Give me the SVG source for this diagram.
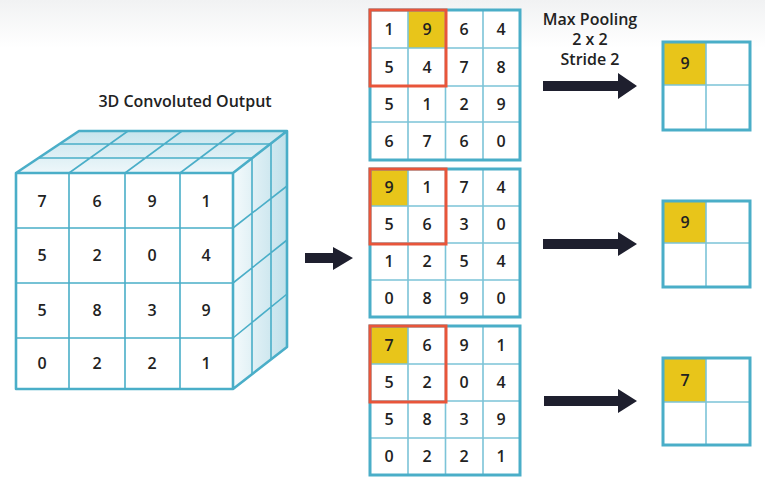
<svg xmlns="http://www.w3.org/2000/svg" width="765" height="483" viewBox="0 0 765 483">
<defs>
<linearGradient id="bg" x1="0" y1="0" x2="0" y2="1"><stop offset="0" stop-color="#f1f2f3"/><stop offset="0.1" stop-color="#ffffff"/><stop offset="1" stop-color="#ffffff"/></linearGradient>
<linearGradient id="topg" x1="0" y1="1" x2="0" y2="0"><stop offset="0" stop-color="#eef7fa"/><stop offset="1" stop-color="#c6e4ed"/></linearGradient>
<linearGradient id="sideg" x1="0" y1="0" x2="1" y2="0"><stop offset="0" stop-color="#f4fafc"/><stop offset="1" stop-color="#bfe0ea"/></linearGradient>
<style>
.num{font-family:"Open Sans","Liberation Sans",sans-serif;font-size:16px;font-weight:600;fill:#222;text-anchor:middle}
.ttl{font-family:"Open Sans","Liberation Sans",sans-serif;font-size:16px;font-weight:600;fill:#222;text-anchor:middle}
.outer{fill:none;stroke:#4aaec8;stroke-width:3}
.inner{fill:none;stroke:#7cc4d8;stroke-width:1.6}
.cube{fill:none;stroke:#4aaec8;stroke-width:1.6;stroke-linejoin:round}
.cubeo{fill:none;stroke:#4aaec8;stroke-width:2.6;stroke-linejoin:round}
.red{fill:none;stroke:#e8553a;stroke-width:3}
.yel{fill:#e8c51a}
.cell{fill:#ffffff}
.arrow{fill:#1e1f2e}
</style>
</defs>
<rect width="765" height="483" fill="url(#bg)"/>

<text class="ttl" x="185" y="107">3D Convoluted Output</text>

<g id="cube">
<polygon points="16,173 79,131 287,131 233,173" fill="url(#topg)"/>
<polygon points="233,173 287,131 287,347 233,389" fill="url(#sideg)"/>
<rect x="16" y="173" width="217" height="216" fill="#ffffff"/>
<path class="cube" d="M38.5,158H252 M59.5,144H271 M69,173L128,131 M125,173L182,131 M180,173L236,131 M252,158.5V374.5 M271,144V360 M233,228L287,186 M233,283L287,240 M233,338L287,294"/>
<path class="cube" d="M69,173V389 M125,173V389 M180,173V389 M16,228H233 M16,283H233 M16,338H233"/>
<path class="cubeo" d="M16,173L79,131H287L233,173Z M233,173V389L287,347V131 M16,173H233V389H16Z"/>
<text class="num" x="42" y="207">7</text><text class="num" x="97" y="207">6</text><text class="num" x="152" y="207">9</text><text class="num" x="206" y="207">1</text>
<text class="num" x="42" y="261">5</text><text class="num" x="97" y="261">2</text><text class="num" x="152" y="261">0</text><text class="num" x="206" y="261">4</text>
<text class="num" x="42" y="316">5</text><text class="num" x="97" y="316">8</text><text class="num" x="152" y="316">3</text><text class="num" x="206" y="316">9</text>
<text class="num" x="42" y="369">0</text><text class="num" x="97" y="369">2</text><text class="num" x="152" y="369">2</text><text class="num" x="206" y="369">1</text>
</g>

<g id="grid1">
<rect class="cell" x="370" y="10" width="150" height="150"/>
<rect class="yel" x="408" y="10" width="38" height="38"/>
<path class="inner" d="M408,10V160 M445.5,10V160 M483,10V160 M370,48H520 M370,86H520 M370,122H520"/>
<rect class="outer" x="370" y="10" width="150" height="150"/>
<rect class="red" x="370" y="10" width="76" height="76"/>
<text class="num" x="389" y="35">1</text><text class="num" x="427" y="35">9</text><text class="num" x="464" y="35">6</text><text class="num" x="501" y="35">4</text>
<text class="num" x="389" y="73">5</text><text class="num" x="427" y="73">4</text><text class="num" x="464" y="73">7</text><text class="num" x="501" y="73">8</text>
<text class="num" x="389" y="110">5</text><text class="num" x="427" y="110">1</text><text class="num" x="464" y="110">2</text><text class="num" x="501" y="110">9</text>
<text class="num" x="389" y="147">6</text><text class="num" x="427" y="147">7</text><text class="num" x="464" y="147">6</text><text class="num" x="501" y="147">0</text>
</g>

<g id="grid2">
<rect class="cell" x="370" y="169" width="150" height="148"/>
<rect class="yel" x="370" y="169" width="38" height="37"/>
<path class="inner" d="M408,169V317 M445.5,169V317 M483,169V317 M370,206H520 M370,243H520 M370,280H520"/>
<rect class="outer" x="370" y="169" width="150" height="148"/>
<rect class="red" x="370" y="169" width="76" height="75"/>
<text class="num" x="389" y="193">9</text><text class="num" x="427" y="193">1</text><text class="num" x="464" y="193">7</text><text class="num" x="501" y="193">4</text>
<text class="num" x="389" y="230">5</text><text class="num" x="427" y="230">6</text><text class="num" x="464" y="230">3</text><text class="num" x="501" y="230">0</text>
<text class="num" x="389" y="267">1</text><text class="num" x="427" y="267">2</text><text class="num" x="464" y="267">5</text><text class="num" x="501" y="267">4</text>
<text class="num" x="389" y="304">0</text><text class="num" x="427" y="304">8</text><text class="num" x="464" y="304">9</text><text class="num" x="501" y="304">0</text>
</g>

<g id="grid3">
<rect class="cell" x="370" y="326" width="150" height="149"/>
<rect class="yel" x="370" y="326" width="38" height="38"/>
<path class="inner" d="M408,326V475 M445.5,326V475 M483,326V475 M370,364H520 M370,401H520 M370,438H520"/>
<rect class="outer" x="370" y="326" width="150" height="149"/>
<rect class="red" x="370" y="326" width="76" height="76"/>
<text class="num" x="389" y="351">7</text><text class="num" x="427" y="351">6</text><text class="num" x="464" y="351">9</text><text class="num" x="501" y="351">1</text>
<text class="num" x="389" y="388">5</text><text class="num" x="427" y="388">2</text><text class="num" x="464" y="388">0</text><text class="num" x="501" y="388">4</text>
<text class="num" x="389" y="425">5</text><text class="num" x="427" y="425">8</text><text class="num" x="464" y="425">3</text><text class="num" x="501" y="425">9</text>
<text class="num" x="389" y="462">0</text><text class="num" x="427" y="462">2</text><text class="num" x="464" y="462">2</text><text class="num" x="501" y="462">1</text>
</g>

<g id="label">
<text class="ttl" x="590" y="25">Max Pooling</text>
<text class="ttl" x="590" y="45">2 x 2</text>
<text class="ttl" x="590" y="65">Stride 2</text>
</g>

<g id="out1">
<rect class="cell" x="663" y="42" width="87" height="88"/>
<rect class="yel" x="663" y="42" width="43" height="43"/>
<path class="inner" d="M706,42V130 M663,85H750"/>
<rect class="outer" x="663" y="42" width="87" height="88"/>
<text class="num" x="685" y="69">9</text>
</g>

<g id="out2">
<rect class="cell" x="663" y="201" width="87" height="86"/>
<rect class="yel" x="663" y="201" width="43" height="42"/>
<path class="inner" d="M706,201V287 M663,243H750"/>
<rect class="outer" x="663" y="201" width="87" height="86"/>
<text class="num" x="685" y="228">9</text>
</g>

<g id="out3">
<rect class="cell" x="663" y="358" width="87" height="87"/>
<rect class="yel" x="663" y="358" width="43" height="44"/>
<path class="inner" d="M706,358V445 M663,402H750"/>
<rect class="outer" x="663" y="358" width="87" height="87"/>
<text class="num" x="685" y="386">7</text>
</g>

<g id="connectors">
<polygon class="arrow" points="305,253 333,253 333,247 353,258 333,270 333,263 305,263"/>
<polygon class="arrow" points="543,81 618,81 618,73 637,86 618,99 618,91 543,91"/>
<polygon class="arrow" points="543,239 618,239 618,232 637,244 618,256 618,249 543,249"/>
<polygon class="arrow" points="544,396 618,396 618,389 637,401 618,413 618,406 544,406"/>
</g>
</svg>
